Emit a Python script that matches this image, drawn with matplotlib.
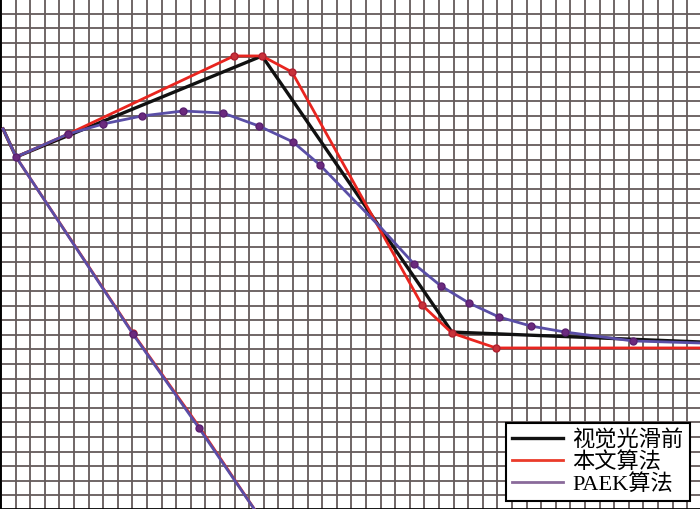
import numpy as np
import matplotlib
matplotlib.use('Agg')
import matplotlib.pyplot as plt
from matplotlib.font_manager import FontProperties

# grid units: one square = 1, origin bottom-left
nan = np.nan

# 视觉光滑前 (black)
black_x = [0.14, 1.03, 17.88, 30.89, 47.88]
black_y = [26.10, 24.18, 31.10, 12.19, 11.51]

# 本文算法 (red)
red_x = [0.14, 1.03, 4.59, 15.96, 17.88, 19.93, 28.84, 30.89, 33.90, 47.88,
         nan, 1.03, 9.04, 13.60, 18.0]
red_y = [26.10, 24.18, 25.75, 31.10, 31.10, 30.00, 14.04, 12.12, 11.10, 11.10,
         nan, 24.18, 12.10, 5.66, -0.9]
red_marks = [2, 3, 4, 5, 6, 7, 8, 12]

# PAEK算法 (purple)
paek_x = [0.14, 1.03, 4.59, 6.99, 9.66, 12.47, 15.21, 17.67, 20.00, 21.85,
          23.97, 26.10, 28.29, 30.14, 32.05, 34.11, 36.30, 38.63, 43.29, 47.88,
          nan, 1.03, 9.04, 13.56, 18.0]
paek_y = [26.10, 24.18, 25.75, 26.44, 26.99, 27.33, 27.19, 26.30, 25.21, 23.63,
          21.44, 19.25, 16.85, 15.34, 14.18, 13.22, 12.60, 12.19, 11.58, 11.44,
          nan, 24.18, 12.05, 5.62, -0.9]
paek_marks = [1, 2, 3, 4, 5, 6, 7, 8, 9, 12, 13, 14, 15, 16, 17, 18, 22, 23]

labels = ['视觉光滑前', '本文算法', 'PAEK算法']

fig = plt.figure(figsize=(7, 5.1), dpi=100)
ax = fig.add_axes([0, 0, 1, 1])
ax.set_xlim(-0.07, 47.88)
ax.set_ylim(0.07, 35)

ax.set_xticks(np.arange(0, 48))
ax.set_yticks(np.arange(1, 36))
ax.grid(True, color='#655b5b', lw=1.3, zorder=0)
ax.tick_params(length=0, labelbottom=False, labelleft=False)
ax.set_axisbelow(True)
for s in ['top', 'right']:
    ax.spines[s].set_visible(False)
for s in ['left', 'bottom']:
    ax.spines[s].set_color('black')
    ax.spines[s].set_linewidth(2)

ax.plot(black_x, black_y, color='#111111', lw=2.4, label=labels[0], zorder=3)
ax.plot(red_x, red_y, color='#e8251f', lw=2.0, marker='o', ms=5,
        mfc='#c8323a', mec='#b02030', markevery=red_marks, label=labels[1], zorder=4)
ax.plot(paek_x, paek_y, color='#5a4ea6', lw=2.0, marker='o', ms=5,
        mfc='#6b2a7e', mec='#5a2070', markevery=paek_marks, label=labels[2], zorder=5)

fp = FontProperties(family=['Liberation Serif', 'Noto Sans CJK SC'], size=16)
h = [plt.Line2D([], [], color='#111111', lw=2.4),
     plt.Line2D([], [], color='#ea3b2a', lw=2.0),
     plt.Line2D([], [], color='#8a6a9a', lw=2.0)]
leg = ax.legend(h, labels, loc='lower right', bbox_to_anchor=(0.986, 0.0157),
                borderaxespad=0, prop=fp, frameon=True, fancybox=False,
                framealpha=1, edgecolor='black', labelspacing=0.05,
                handlelength=2.3, handletextpad=0.4, borderpad=0.3)
leg.get_frame().set_linewidth(1.5)

fig.savefig('out.png', dpi=100)
